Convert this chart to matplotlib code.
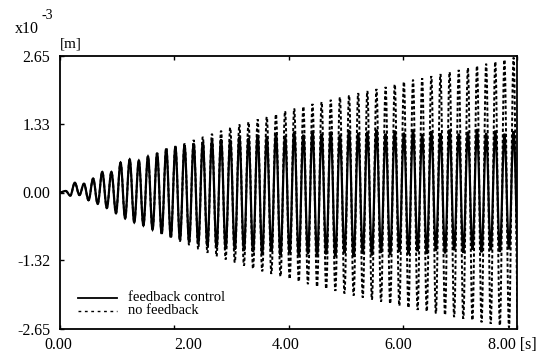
import numpy as np
import matplotlib
matplotlib.use("Agg")
import matplotlib.pyplot as plt
from matplotlib.path import Path
from matplotlib.patches import PathPatch
from matplotlib.lines import Line2D
from matplotlib.transforms import ScaledTranslation

plt.rcParams['font.family'] = ['Liberation Serif', 'DejaVu Serif']

# ---------------- data (units of 1e-3 m) ----------------
# times of successive maxima / minima [s]
t_top = [0.10, 0.26, 0.42, 0.58, 0.74, 0.90, 1.06, 1.22, 1.38, 1.54,
         1.70, 1.86, 2.02, 2.18, 2.34, 2.50, 2.66, 2.82, 2.98, 3.14,
         3.30, 3.46, 3.62, 3.78, 3.94, 4.10, 4.26, 4.42, 4.58, 4.74,
         4.90, 5.06, 5.22, 5.38, 5.54, 5.70, 5.86, 6.02, 6.18, 6.34,
         6.50, 6.66, 6.82, 6.98, 7.14, 7.30, 7.46, 7.62, 7.78, 7.94]
t_bot = [0.18, 0.34, 0.50, 0.66, 0.82, 0.98, 1.14, 1.30, 1.46, 1.62,
         1.78, 1.94, 2.10, 2.26, 2.42, 2.58, 2.74, 2.90, 3.06, 3.22,
         3.38, 3.54, 3.70, 3.86, 4.02, 4.18, 4.34, 4.50, 4.66, 4.82,
         4.98, 5.14, 5.30, 5.46, 5.62, 5.78, 5.94, 6.10, 6.26, 6.42,
         6.58, 6.74, 6.90, 7.06, 7.22, 7.38, 7.54, 7.70, 7.86, 8.02]

# feedback control: peak values
fb_top = [0.03, 0.19, 0.17, 0.27, 0.40, 0.40, 0.58, 0.64, 0.62, 0.70,
          0.76, 0.85, 0.88, 0.92, 0.95, 0.98, 1.00, 1.03, 1.02, 1.08,
          1.05, 1.12, 1.08, 1.15, 1.10, 1.18, 1.12, 1.20, 1.14, 1.18,
          1.12, 1.21, 1.15, 1.18, 1.22, 1.14, 1.20, 1.16, 1.22, 1.13,
          1.19, 1.15, 1.22, 1.14, 1.18, 1.23, 1.15, 1.20, 1.14, 1.19]
fb_bot = [-0.06, -0.05, -0.15, -0.22, -0.30, -0.40, -0.50, -0.58, -0.64, -0.72,
          -0.80, -0.87, -0.92, -0.96, -1.00, -1.03, -1.06, -1.09, -1.11, -1.13,
          -1.15, -1.19, -1.14, -1.22, -1.18, -1.24, -1.19, -1.25, -1.20, -1.24,
          -1.18, -1.25, -1.19, -1.22, -1.17, -1.21, -1.15, -1.20, -1.14, -1.19,
          -1.13, -1.18, -1.12, -1.17, -1.11, -1.16, -1.12, -1.15, -1.10, -1.14]

# no feedback: peak values
nf_top = [0.03, 0.19, 0.17, 0.27, 0.40, 0.40, 0.58, 0.64, 0.62, 0.70,
          0.77, 0.86, 0.90, 0.95, 1.02, 1.08, 1.14, 1.20, 1.26, 1.32,
          1.37, 1.42, 1.47, 1.52, 1.58, 1.63, 1.67, 1.72, 1.76, 1.80,
          1.85, 1.89, 1.93, 1.97, 2.01, 2.05, 2.10, 2.15, 2.19, 2.22,
          2.26, 2.30, 2.34, 2.38, 2.42, 2.46, 2.50, 2.54, 2.58, 2.62]
nf_bot = [-0.06, -0.05, -0.15, -0.22, -0.30, -0.40, -0.50, -0.58, -0.64, -0.72,
          -0.80, -0.88, -0.95, -1.02, -1.10, -1.17, -1.24, -1.30, -1.36, -1.42,
          -1.48, -1.53, -1.58, -1.63, -1.68, -1.73, -1.78, -1.83, -1.87, -1.91,
          -1.96, -2.00, -2.04, -2.08, -2.12, -2.16, -2.20, -2.24, -2.28, -2.31,
          -2.35, -2.38, -2.42, -2.45, -2.48, -2.52, -2.55, -2.58, -2.62, -2.65]

x_ticks = [0, 2, 4, 6, 8]
x_tick_labels = ["0.00", "2.00", "4.00", "6.00", "8.00 [s]"]
y_ticks = [2.65, 1.33, 0.0, -1.32, -2.65]
y_tick_labels = ["2.65", "1.33", "0.00", "-1.32", "-2.65"]
series_labels = ["feedback control", "no feedback"]


def wave_path(tt, yy, c=0.36):
    verts = [(tt[0], yy[0])]
    codes = [Path.MOVETO]
    for i in range(1, len(tt)):
        dt = tt[i] - tt[i - 1]
        verts += [(tt[i - 1] + c * dt, yy[i - 1]),
                  (tt[i] - c * dt, yy[i]),
                  (tt[i], yy[i])]
        codes += [Path.CURVE4] * 3
    return Path(verts, codes)


def merge(top, bot):
    t = [0.0]
    y = [0.0]
    for a, b, c, d in zip(t_top, top, t_bot, bot):
        t += [a, c]
        y += [b, d]
    return t, y


fig = plt.figure(figsize=(5.54, 3.62), dpi=100)
ax = fig.add_axes([60 / 554, 1 - 329 / 362, 457 / 554, 273 / 362])

t_nf, y_nf = merge(nf_top, nf_bot)
t_fb, y_fb = merge(fb_top, fb_bot)

ax.add_patch(PathPatch(wave_path(t_nf, y_nf), fill=False, edgecolor='black',
                       lw=1.4, linestyle=(0, (1.7, 1.2)), zorder=2))
ax.add_patch(PathPatch(wave_path(t_fb, y_fb), fill=False, edgecolor='black',
                       lw=1.6, zorder=3))

ax.set_xlim(0, 8)
ax.set_ylim(-2.65, 2.65)

ax.set_xticks(x_ticks)
ax.set_xticklabels(x_tick_labels, fontsize=11.5)
ax.set_yticks(y_ticks)
ax.set_yticklabels(y_tick_labels, fontsize=11.5)
ax.tick_params(direction='in', length=3, width=1, top=True, right=False)
ax.tick_params(axis='y', pad=7)
ax.tick_params(axis='x', pad=6)

# scanned-label offsets (points)
dxs = [-1.5, 10, -2, -3.5, -3]
for lbl, dx in zip(ax.get_xticklabels(), dxs):
    lbl.set_transform(lbl.get_transform() + ScaledTranslation(dx / 72, 0, fig.dpi_scale_trans))

for s in ax.spines.values():
    s.set_linewidth(1.3)

# manual legend
ax.add_line(Line2D([0.039, 0.125], [0.1136, 0.1136], transform=ax.transAxes,
                   color='black', lw=1.3))
ax.add_line(Line2D([0.039, 0.125], [0.066, 0.066], transform=ax.transAxes,
                   color='black', lw=1.0, linestyle=(0, (2.0, 2.6))))
ax.text(0.149, 0.1156, series_labels[0], transform=ax.transAxes,
        fontsize=10.5, va='center', ha='left')
ax.text(0.149, 0.068, series_labels[1], transform=ax.transAxes,
        fontsize=10.5, va='center', ha='left')

fig.text(15 / 554, 1 - 33 / 362, "x10", fontsize=11.5, ha='left', va='baseline')
fig.text(41 / 554, 1 - 19 / 362, "-3", fontsize=10, ha='left', va='baseline')
fig.text(60 / 554, 1 - 47 / 362, "[m]", fontsize=11, ha='left', va='baseline')

fig.savefig("out.png", dpi=100)
